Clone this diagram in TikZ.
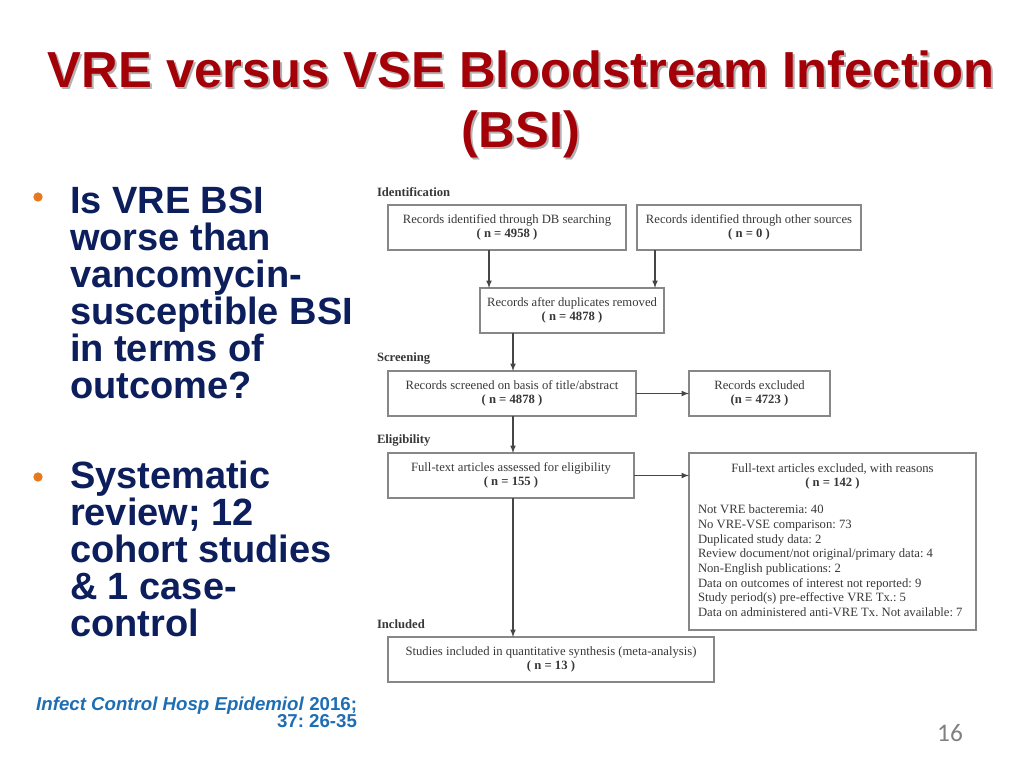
\documentclass[tikz,border=0pt]{standalone}
\usepackage{fontspec}
\setmainfont{Liberation Serif}
\newfontfamily\slidefont{Liberation Sans}
\newfontfamily\numfont{Carlito}
\usepackage{tikz}
\usetikzlibrary{arrows}
\frenchspacing
\definecolor{titlered}{RGB}{163,0,8}
\definecolor{navy}{RGB}{12,30,92}
\definecolor{bulletorange}{RGB}{230,120,30}
\definecolor{citeblue}{RGB}{30,110,180}
\definecolor{boxgray}{RGB}{135,135,135}
\definecolor{flowtext}{RGB}{55,55,55}
\definecolor{flowline}{RGB}{70,70,70}

\begin{document}
\begin{tikzpicture}[x=0.75pt,y=-0.75pt]
% Default actions for each node
\tikzstyle{every node}=[inner sep=0pt, outer sep=0pt];
\tikzstyle{box} = [draw=boxgray, line width=0.9pt, align=center, text=flowtext, font=\fontsize{9.5}{10.5}\selectfont]
\tikzstyle{edge} = [draw=flowline, line width=0.9pt, -latex]
\tikzstyle{stage} = [anchor=west, text=flowtext, font=\fontsize{9.5}{10.5}\selectfont\bfseries]
\tikzstyle{dot} = [fill=bulletorange, circle, minimum size=7pt]
\tikzstyle{point} = [anchor=north west, align=left, text=navy, font=\slidefont\bfseries\fontsize{28.5}{27.75}\selectfont]
\tikzstyle{heading} = [align=center, font=\slidefont\bfseries\fontsize{38}{45}\selectfont]
% Page area
\useasboundingbox (0,0) rectangle (1024,768);
% Title with its shadow
\node [heading, text=black!30] (titleshadow) at (523,106) {VRE versus VSE Bloodstream Infection\\(BSI)};
\node [heading, text=titlered] (title) at (521,104) {VRE versus VSE Bloodstream Infection\\(BSI)};
% Bullet points on the left
\node [dot] (dot1) at (38,197) {};
\node [point] (question) at (70,187) {Is VRE BSI\\worse than\\vancomycin-\\susceptible BSI\\in terms of\\outcome?};
\node [dot] (dot2) at (38,477) {};
\node [point] (review) at (70,461) {Systematic\\review; 12\\cohort studies\\\& 1 case-\\control};
% Reference and slide number
\node [anchor=north east, align=right, text=citeblue, font=\slidefont\bfseries\fontsize{14}{13}\selectfont] (cite) at (357,697) {\textit{Infect Control Hosp Epidemiol} 2016;\\37: 26-35};
\node [text=black!50, font=\numfont\fontsize{19}{19}\selectfont] (pagenum) at (950,733) {16};
% Stage labels
\node [stage] (identification) at (377,192) {Identification};
\node [stage] (screening) at (377,358) {Screening};
\node [stage] (eligibility) at (377,440) {Eligibility};
\node [stage] (included) at (377,624) {Included};
% Flow boxes
\node [box, minimum width=178.5pt, minimum height=33.75pt] (dbsearch) at (507,227.5) {Records identified through DB searching\\\textbf{( n = 4958 )}};
\node [box, minimum width=168pt, minimum height=33.75pt] (othersrc) at (749,227.5) {Records identified through other sources\\\textbf{( n = 0 )}};
\node [box, minimum width=138pt, minimum height=33.75pt] (dedup) at (572,310.5) {Records after duplicates removed\\\textbf{( n = 4878 )}};
\node [box, minimum width=186pt, minimum height=33.75pt] (screened) at (512,393.5) {Records screened on basis of title/abstract\\\textbf{( n = 4878 )}};
\node [box, minimum width=105.75pt, minimum height=33.75pt] (recexcl) at (759.5,393.5) {Records excluded\\\textbf{(n = 4723 )}};
\node [box, minimum width=184.5pt, minimum height=33.75pt] (fulltext) at (511,475.5) {Full-text articles assessed for eligibility\\\textbf{( n = 155 )}};
\node [box, minimum width=215.25pt, minimum height=132.75pt] (ftexcl) at (832.5,541.5) {};
\node [box, minimum width=244.5pt, minimum height=33.75pt] (studies) at (551,659.5) {Studies included in quantitative synthesis (meta-analysis)\\\textbf{( n = 13 )}};
% Text inside the exclusion box
\node [align=center, text=flowtext, font=\fontsize{9.5}{10.5}\selectfont] (ftexclhead) at (832.5,476) {Full-text articles excluded, with reasons\\\textbf{( n = 142 )}};
\node [anchor=north west, align=left, text=flowtext, font=\fontsize{9.5}{11}\selectfont] (reasons) at (698,505) {Not VRE bacteremia: 40\\No VRE-VSE comparison: 73\\Duplicated study data: 2\\Review document/not original/primary data: 4\\Non-English publications: 2\\Data on outcomes of interest not reported: 9\\Study period(s) pre-effective VRE Tx.: 5\\Data on administered anti-VRE Tx. Not available: 7};
% Draw the arrows
\draw [edge] (dbsearch.south -| 489,0) -- (dedup.north -| 489,0);
\draw [edge] (othersrc.south -| 655,0) -- (dedup.north -| 655,0);
\draw [edge] (dedup.south -| 513,0) -- (screened.north -| 513,0);
\draw [edge] (screened.east) -- (recexcl.west);
\draw [edge] (screened.south -| 513,0) -- (fulltext.north -| 513,0);
\draw [edge] (fulltext.east) -- (ftexcl.west |- fulltext.east);
\draw [edge] (fulltext.south -| 513,0) -- (studies.north -| 513,0);
\end{tikzpicture}
\end{document}
